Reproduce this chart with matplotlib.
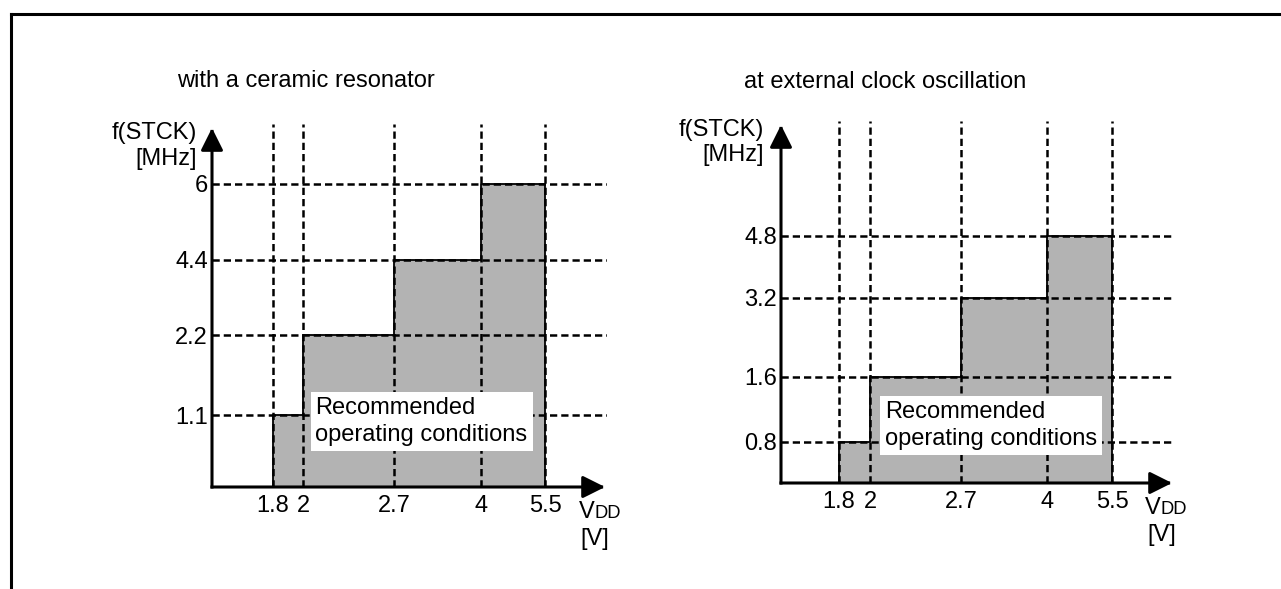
import numpy as np
import matplotlib.pyplot as plt
from matplotlib.lines import Line2D

plt.rcParams['font.family'] = ['Liberation Sans', 'DejaVu Sans']

# operating range: supply voltage breakpoints and max f(STCK) per segment
VDD_POINTS = [1.8, 2, 2.7, 4, 5.5]
VDD_LABELS = ['1.8', '2', '2.7', '4', '5.5']

FMAX_CERAMIC = [1.1, 2.2, 4.4, 6]
FREQ_LABELS_CERAMIC = ['1.1', '2.2', '4.4', '6']

FMAX_EXTERNAL = [0.8, 1.6, 3.2, 4.8]
FREQ_LABELS_EXTERNAL = ['0.8', '1.6', '3.2', '4.8']

TITLES = ['with a ceramic resonator', 'at external clock oscillation']

W, H = 1281, 589
FS = 17
GRAY = '#b3b3b3'
DASH_LW = 1.8
DASH = (0, (2.9, 1.6))

# layout in pixels: origin, axis lengths, schematic tick offsets
LAYOUT = [
    dict(x0=212, y0=487, lx=395, ly=363, xoff=[61, 91, 182, 269, 333], yoff=[72, 152, 227, 303],
         title_xy=(177, 81), box_xy=(0.262, 0.248), vdd_xy=(579, 518), v_xy=(580, 545),
         f_xy=(197, 133), mhz_xy=(197, 159)),
    dict(x0=781, y0=483, lx=393, ly=362, xoff=[58, 89, 180, 266, 331], yoff=[41, 106, 185, 247],
         title_xy=(744, 82), box_xy=(0.264, 0.227), vdd_xy=(1145, 514), v_xy=(1147, 541),
         f_xy=(764, 130), mhz_xy=(764, 155)),
]


def schematic_scale(ticks, offsets, length):
    vals = np.r_[0.0, ticks, ticks[-1] * 1.2]
    pos = np.r_[0.0, offsets, length]
    fwd = lambda v: np.interp(v, vals, pos)
    inv = lambda p: np.interp(p, pos, vals)
    return (fwd, inv), vals[-1]


def draw_panel(fig, lay, vdd, fmax, flabels, title):
    ax = fig.add_axes([lay['x0'] / W, 1 - lay['y0'] / H, lay['lx'] / W, lay['ly'] / H])
    ax.patch.set_visible(False)
    for s in ax.spines.values():
        s.set_visible(False)

    xfun, xend = schematic_scale(vdd, lay['xoff'], lay['lx'])
    yfun, yend = schematic_scale(fmax, lay['yoff'], lay['ly'])
    ax.set_xscale('function', functions=xfun)
    ax.set_yscale('function', functions=yfun)
    ax.set_xlim(0, xend)
    ax.set_ylim(0, yend)

    ax.set_xticks(vdd, VDD_LABELS)
    ax.set_yticks(fmax, flabels)
    ax.tick_params(length=0, labelsize=FS, colors='black')
    ax.tick_params(axis='x', pad=6)
    ax.tick_params(axis='y', pad=3)
    ax.minorticks_off()

    # recommended region
    heights = list(fmax) + [fmax[-1]]
    ax.fill_between(vdd, heights, step='post', color=GRAY, lw=0, zorder=1)

    # dashed reference lines
    for v in vdd:
        ax.axvline(v, color='black', lw=DASH_LW, ls=DASH, zorder=2)
    for f in fmax:
        ax.axhline(f, color='black', lw=DASH_LW, ls=DASH, zorder=2)

    # solid outline of the region
    ox = np.repeat(vdd, 2)
    oy = np.r_[0, np.repeat(fmax, 2), 0]
    ax.plot(ox, oy, color='black', lw=1.3, zorder=3)

    bx, by = lay['box_xy']
    ax.text(bx, by, 'Recommended\noperating conditions', transform=ax.transAxes,
            fontsize=FS, va='top', ha='left', linespacing=1.28, zorder=4,
            bbox=dict(facecolor='white', edgecolor='none', pad=3.5))

    # axis arrows
    arrow = dict(arrowstyle='-|>,head_length=0.8,head_width=0.4', mutation_scale=17,
                 lw=2.2, color='black', shrinkA=0, shrinkB=0, capstyle='projecting')
    ytip = 1 - 4 / lay['ly']
    ax.annotate('', xy=(0, ytip), xytext=(0, 0), xycoords='axes fraction', arrowprops=arrow,
                annotation_clip=False, zorder=5)
    ax.annotate('', xy=(0.995, 0), xytext=(0, 0), xycoords='axes fraction', arrowprops=arrow,
                annotation_clip=False, zorder=5)

    px = lambda x, y: (x / W, 1 - y / H)
    fig.text(*px(*lay['title_xy']), title, fontsize=FS, va='center', ha='left')
    fig.text(*px(*lay['f_xy']), 'f(STCK)', fontsize=FS, va='center', ha='right')
    fig.text(*px(*lay['mhz_xy']), '[MHz]', fontsize=FS, va='center', ha='right')
    t = fig.text(*px(*lay['vdd_xy']), 'V', fontsize=FS, va='baseline', ha='left')
    fig.text(*px(*lay['v_xy']), '[V]', fontsize=FS, va='baseline', ha='left')
    ax.annotate('DD', xy=(1, 0), xycoords=t, xytext=(0, 0.2 * FS), textcoords='offset points',
                fontsize=FS * 0.78, va='baseline', ha='left')
    return ax


fig = plt.figure(figsize=(W / 100, H / 100), dpi=100)

draw_panel(fig, LAYOUT[0], VDD_POINTS, FMAX_CERAMIC, FREQ_LABELS_CERAMIC, TITLES[0])
draw_panel(fig, LAYOUT[1], VDD_POINTS, FMAX_EXTERNAL, FREQ_LABELS_EXTERNAL, TITLES[1])

# page frame: top rule and left rule
fig.add_artist(Line2D([10.5 / W, 1], [1 - 13.5 / H, 1 - 13.5 / H], color='black', lw=2.2,
                      solid_capstyle='projecting', transform=fig.transFigure))
fig.add_artist(Line2D([10.5 / W, 10.5 / W], [1 - 13.5 / H, 0], color='black', lw=2.2,
                      solid_capstyle='projecting', transform=fig.transFigure))

fig.savefig('out.png', dpi=100)
